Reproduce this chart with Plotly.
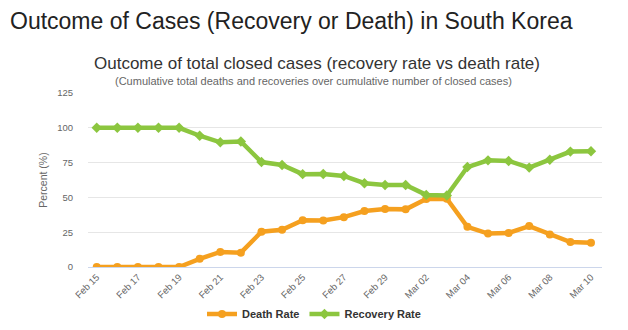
import plotly.graph_objects as go

dates = ["2020-02-15", "2020-02-16", "2020-02-17", "2020-02-18", "2020-02-19",
         "2020-02-20", "2020-02-21", "2020-02-22", "2020-02-23", "2020-02-24",
         "2020-02-25", "2020-02-26", "2020-02-27", "2020-02-28", "2020-02-29",
         "2020-03-01", "2020-03-02", "2020-03-03", "2020-03-04", "2020-03-05",
         "2020-03-06", "2020-03-07", "2020-03-08", "2020-03-09", "2020-03-10"]

death_rate = [0, 0, 0, 0, 0,
              5.9, 10.8, 10.3, 25.3, 26.8,
              33.6, 33.4, 35.8, 40.2, 41.6,
              41.4, 48.8, 49.0, 28.9, 24.0,
              24.4, 29.4, 23.3, 17.9, 17.5]

recovery_rate = [100, 100, 100, 100, 100,
                 94.3, 89.6, 90.2, 75.4, 73.3,
                 66.7, 66.8, 65.4, 60.2, 58.9,
                 58.9, 51.8, 51.4, 71.8, 76.6,
                 76.2, 71.4, 77.1, 82.9, 83.2]

FONT = "Liberation Sans, Arial, sans-serif"
ORANGE = "#F5A01F"
GREEN = "#8CC63F"

fig = go.Figure()
fig.add_trace(go.Scatter(
    x=dates, y=death_rate, name="Death Rate", mode="lines+markers",
    line=dict(color=ORANGE, width=4.5),
    marker=dict(symbol="circle", size=8, color=ORANGE),
))
fig.add_trace(go.Scatter(
    x=dates, y=recovery_rate, name="Recovery Rate", mode="lines+markers",
    line=dict(color=GREEN, width=4.5),
    marker=dict(symbol="diamond", size=8, color=GREEN),
))

fig.update_layout(
    width=628, height=330,
    margin=dict(l=88, r=26, t=93, b=63),
    paper_bgcolor="white", plot_bgcolor="white",
    font=dict(family=FONT, color="#666666"),
    title=dict(
        text="Outcome of Cases (Recovery or Death) in South Korea",
        x=10 / 628, xanchor="left", xref="container",
        y=1 - 21 / 330, yanchor="middle", yref="container",
        font=dict(family=FONT, size=23, color="#222222"),
    ),
    showlegend=True,
    legend=dict(
        orientation="h", xref="container", x=0.5, xanchor="center",
        yref="container", y=1 - 314 / 330, yanchor="middle",
        font=dict(family=FONT, size=11, color="#333333", weight="bold"),
        itemwidth=30, tracegroupgap=0,
    ),
    annotations=[
        dict(text="Outcome of total closed cases (recovery rate vs death rate)",
             xref="paper", yref="paper", x=(317 - 88) / 514, y=1 + (93 - 64) / 174,
             xanchor="center", yanchor="middle", showarrow=False,
             font=dict(family=FONT, size=17, color="#333333")),
        dict(text="(Cumulative total deaths and recoveries over cumulative number of closed cases)",
             xref="paper", yref="paper", x=(313 - 88) / 514, y=1 + (93 - 81) / 174,
             xanchor="center", yanchor="middle", showarrow=False,
             font=dict(family=FONT, size=11, color="#666666")),
    ],
    xaxis=dict(
        type="date", automargin=False,
        range=["2020-02-14 13:50", "2020-03-10 12:50"],
        tick0="2020-02-15", dtick=2 * 86400000,
        tickformat="%b %d", tickangle=-45,
        tickfont=dict(size=9.5, color="#666666"),
        showgrid=False, showline=True, linecolor="#ccd6eb", linewidth=1,
        ticks="", zeroline=False,
    ),
    yaxis=dict(
        automargin=False,
        range=[0, 125], tick0=0, dtick=25,
        showgrid=True, gridcolor="#e6e6e6", gridwidth=1,
        zeroline=False, showline=False,
        tickfont=dict(size=9.5, color="#666666"),
        ticklabelstandoff=14,
        title=dict(text="Percent (%)", font=dict(size=10.5, color="#666666"), standoff=7),
    ),
)

fig.write_html("out.html")
